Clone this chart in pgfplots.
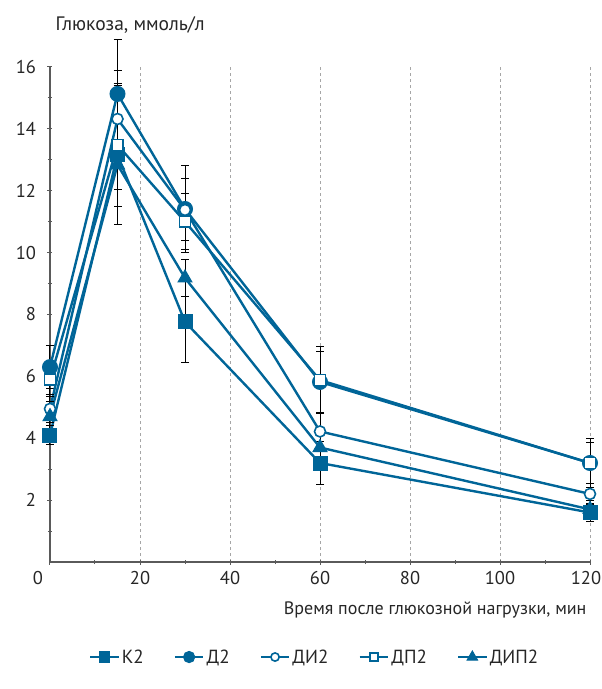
\documentclass[border=0pt]{standalone}
\usepackage{pgfplots}
\pgfplotsset{compat=1.18}
\usepackage{fontspec}
\setmainfont{PT Sans}
\definecolor{ser}{RGB}{0,101,152}
\definecolor{axc}{RGB}{90,90,90}
\begin{document}
\begin{tikzpicture}[x=1pt,y=1pt]
\path[use as bounding box] (-50,-127) rectangle (552,562);
\begin{axis}[
  at={(0,0)}, anchor=south west,
  scale only axis, width=540pt, height=495pt,
  xmin=0, xmax=120, ymin=0, ymax=16,
  clip=false,
  axis x line*=bottom, axis y line*=left,
  axis line style={axc, line width=1.2pt},
  xtick={0,20,40,60,80,100,120},
  xticklabels={\makebox[0pt][r]{0\hspace{7pt}},20,40,60,80,100,\makebox[0pt][c]{\kern-8pt 120}},
  minor xtick={10,30,50,70,90,110},
  ytick={2,4,...,16},
  minor ytick={1,3,...,15},
  tick align=center,
  major tick length=5pt, minor tick length=4pt,
  every tick/.style={axc, line width=1pt},
  xmajorgrids, grid style={gray!70, dashed, line width=0.9pt},
  /pgf/number format/assume math mode=true,
  tick label style={font=\fontsize{18.5}{22}\selectfont, text=black!85},
  yticklabel style={xshift=-8pt},
  xticklabel style={yshift=-3pt},
  ylabel={Глюкоза, ммоль/л},
  ylabel style={rotate=-90, anchor=west, at={(axis description cs:0.004,1.085)}, font=\fontsize{19.5}{22}\selectfont, text=black!85},
  xlabel={Время после глюкозной нагрузки, мин},
  xlabel style={anchor=east, at={(axis description cs:1.0,-0.097)}, font=\fontsize{18}{21}\selectfont, text=black!85},
  legend columns=5,
  legend style={draw=none, at={(axis description cs:0.49,-0.192)}, anchor=center,
    font=\fontsize{19}{22}\selectfont, text=black!85, /tikz/every even column/.append style={column sep=28pt}},
  legend image code/.code={\draw[mark repeat=2, mark phase=2, every mark/.append style={scale=0.75}] plot coordinates {(0cm,0cm)(0.5cm,0cm)(1cm,0cm)};},
  every axis plot/.append style={line width=2.4pt,
    error bars/y dir=both, error bars/y explicit,
    error bars/error bar style={black, line width=1pt},
    error bars/error mark options={rotate=90, mark size=4pt, black, line width=1pt}},
]
\addplot[ser, mark=square*, mark size=7pt, mark options={fill=ser, draw=ser, solid, line width=1pt}] table[x=x,y=y,y error=e] {
x y e
0 4.1 0.3
15 13.16 2.25
30 7.76 1.3
60 3.2 0.68
120 1.6 0.3
};
\addlegendentry{К2}
\addplot[ser, mark=*, mark size=7.5pt, mark options={fill=ser, draw=ser, solid, line width=1pt}] table[x=x,y=y,y error=e] {
x y e
0 6.3 0.7
15 15.13 1.75
30 11.41 1.4
60 5.82 0.98
120 3.2 0.65
};
\addlegendentry{Д2}
\addplot[ser, mark=*, mark size=5.5pt, mark options={fill=white, draw=ser, solid, line width=1.6pt}] table[x=x,y=y,y error=e] {
x y e
0 4.95 0.45
15 14.32 1.56
30 11.38 1.0
60 4.22 0.6
120 2.2 0.35
};
\addlegendentry{ДИ2}
\addplot[ser, mark=square*, mark size=5.5pt, mark options={fill=white, draw=ser, solid, line width=1.6pt}] table[x=x,y=y,y error=e] {
x y e
0 5.9 0.55
15 13.48 2.0
30 11.0 0.9
60 5.88 1.07
120 3.2 0.78
};
\addlegendentry{ДП2}
\addplot[ser, mark=triangle*, mark size=8pt, mark options={fill=ser, draw=ser, solid, line width=1pt}] table[x=x,y=y,y error=e] {
x y e
0 4.7 0.5
15 12.84 0.8
30 9.18 0.6
60 3.7 0.6
120 1.7 0.3
};
\addlegendentry{ДИП2}
\end{axis}
\end{tikzpicture}
\end{document}
